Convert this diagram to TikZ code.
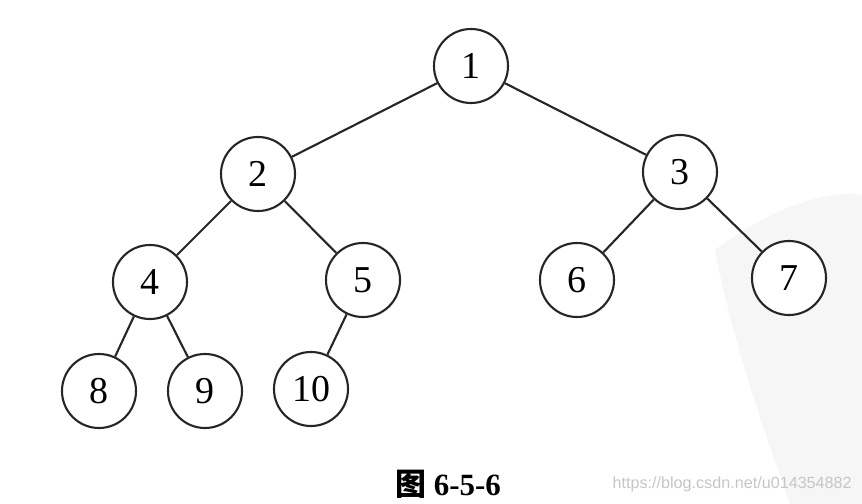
\documentclass[tikz,border=0pt]{standalone}
\usepackage{fontspec}
\setmainfont{Liberation Serif}
\newfontfamily\cjkfont{Noto Sans CJK SC}
\newfontfamily\markfont{Liberation Sans}
\usetikzlibrary{positioning}

\begin{document}
\begin{tikzpicture}[
        x=0.025cm, y=-0.025cm,
        every node/.style={align=center},
        vertex/.style={circle, draw=black!85, line width=1.5pt, fill=white, minimum size=1.85cm, inner sep=0pt, font=\fontsize{27}{27}\selectfont},
        edge/.style={draw=black!85, line width=1.5pt}
    ]
        \useasboundingbox (0,0) rectangle (862,504);
        % Watermark shape
        \fill[gray!7] (715,250) .. controls (780,200) and (840,190) .. (862,195) -- (862,504) -- (790,504) .. controls (760,420) and (730,330) .. (715,250);
        % Nodes
        \node[vertex] (n1) at (471,66) {1};
        \node[vertex] (n2) at (258,174) {2};
        \node[vertex] (n3) at (680,172) {3};
        \node[vertex] (n4) at (150,282) {4};
        \node[vertex] (n5) at (363,280) {5};
        \node[vertex] (n6) at (577,280) {6};
        \node[vertex] (n7) at (789,278) {7};
        \node[vertex] (n8) at (99,391) {8};
        \node[vertex] (n9) at (205,391) {9};
        \node[vertex] (n10) at (311,389) {10};

        % Edges
        \draw[edge] (n1) -- (n2);
        \draw[edge] (n1) -- (n3);
        \draw[edge] (n2) -- (n4);
        \draw[edge] (n2) -- (n5);
        \draw[edge] (n3) -- (n6);
        \draw[edge] (n3) -- (n7);
        \draw[edge] (n4) -- (n8);
        \draw[edge] (n4) -- (n9);
        \draw[edge] (n5) -- (n10);

        % Caption
        \node[font=\fontsize{22}{22}\selectfont\bfseries] (caption) at (448,484) {{\cjkfont 图} 6-5-6};
        \node[font=\markfont\fontsize{11.5}{12}\selectfont, text=gray!45, anchor=east, inner sep=0pt] (mark) at (852,484) {https://blog.csdn.net/u014354882};
    \end{tikzpicture}
\end{document}
